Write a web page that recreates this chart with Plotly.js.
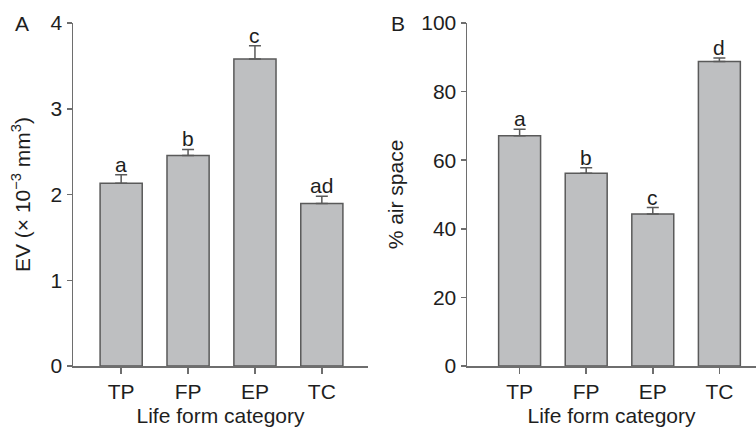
<!DOCTYPE html>
<html>
<head>
<meta charset="utf-8">
<script src="https://cdn.plot.ly/plotly-3.0.1.min.js"></script>
<style>html,body{margin:0;padding:0;background:#fff;}#chart{width:756px;height:427px;}</style>
</head>
<body>
<div id="chart"></div>
<script>
const categories = ["TP", "FP", "EP", "TC"];
const evValues = [2.13, 2.455, 3.58, 1.895];
const evErrors = [0.10, 0.07, 0.155, 0.085];
const evLetters = ["a", "b", "c", "ad"];
const airValues = [67.1, 56.2, 44.3, 88.8];
const airErrors = [1.9, 1.6, 1.9, 1.0];
const airLetters = ["a", "b", "c", "d"];

const barFill = "#bebfc1";
const barLine = "#5a5a5a";
const axisCol = "#6e6e6e";
const textCol = "#1e1e1e";
const fnt = {family: "Liberation Sans, Arial, sans-serif", size: 21, color: textCol};

function barTrace(vals, errs, xa, ya) {
  return {
    type: "bar", x: categories, y: vals, xaxis: xa, yaxis: ya,
    width: 0.63,
    marker: {color: barFill, line: {color: barLine, width: 1.5}},
    error_y: {type: "data", symmetric: false, array: errs, arrayminus: errs.map(() => 0),
              color: barLine, thickness: 1.5, width: 6},
    hoverinfo: "none", showlegend: false
  };
}

const data = [barTrace(evValues, evErrors, "x", "y"), barTrace(airValues, airErrors, "x2", "y2")];

const annotations = [];
categories.forEach((c, i) => {
  annotations.push({x: c, y: evValues[i] + evErrors[i], xref: "x", yref: "y", text: evLetters[i],
    showarrow: false, yanchor: "bottom", yshift: -3, font: fnt});
  annotations.push({x: c, y: airValues[i] + airErrors[i], xref: "x2", yref: "y2", text: airLetters[i],
    showarrow: false, yanchor: "bottom", yshift: -3, font: fnt});
});
annotations.push({x: 22/756, y: 1, xref: "paper", yref: "paper", text: "A", showarrow: false,
  xanchor: "center", yanchor: "middle", font: fnt});
annotations.push({x: 398/756, y: 1, xref: "paper", yref: "paper", text: "B", showarrow: false,
  xanchor: "center", yanchor: "middle", font: fnt});

const xCommon = {
  type: "category", showline: true, linecolor: axisCol, linewidth: 1.5,
  ticks: "outside", ticklen: 6, tickwidth: 1.5, tickcolor: axisCol,
  showgrid: false, zeroline: false, tickfont: fnt,
  title: {text: "Life form category", font: fnt, standoff: 6}
};
const yCommon = {
  showline: true, linecolor: axisCol, linewidth: 1.5,
  ticks: "outside", ticklen: 5, tickwidth: 1.5, tickcolor: axisCol,
  showgrid: false, zeroline: false, tickfont: fnt, domain: [0, 1]
};

const layout = {
  width: 756, height: 427,
  margin: {l: 0, r: 0, t: 23, b: 61},
  paper_bgcolor: "#fff", plot_bgcolor: "#fff",
  font: fnt,
  xaxis: Object.assign({}, xCommon, {domain: [73/756, 368/756], range: [-0.72, 3.69], anchor: "y"}),
  yaxis: Object.assign({}, yCommon, {anchor: "x", range: [0, 4], dtick: 1,
    title: {text: "EV (× 10<sup>−3</sup> mm<sup>3</sup>)", font: fnt, standoff: 14}}),
  xaxis2: Object.assign({}, xCommon, {domain: [467/756, 1], range: [-0.79, 3.55], anchor: "y2"}),
  yaxis2: Object.assign({}, yCommon, {anchor: "x2", range: [0, 100], dtick: 20,
    title: {text: "% air space", font: fnt, standoff: 12}}),
  annotations: annotations,
  shapes: [
    {type: "line", xref: "paper", yref: "y", x0: 68/756, x1: 73/756, y0: 0, y1: 0, line: {color: axisCol, width: 1.5}},
    {type: "line", xref: "paper", yref: "y2", x0: 462/756, x1: 467/756, y0: 0, y1: 0, line: {color: axisCol, width: 1.5}}
  ]
};

Plotly.newPlot("chart", data, layout, {staticPlot: true});
</script>
</body>
</html>
